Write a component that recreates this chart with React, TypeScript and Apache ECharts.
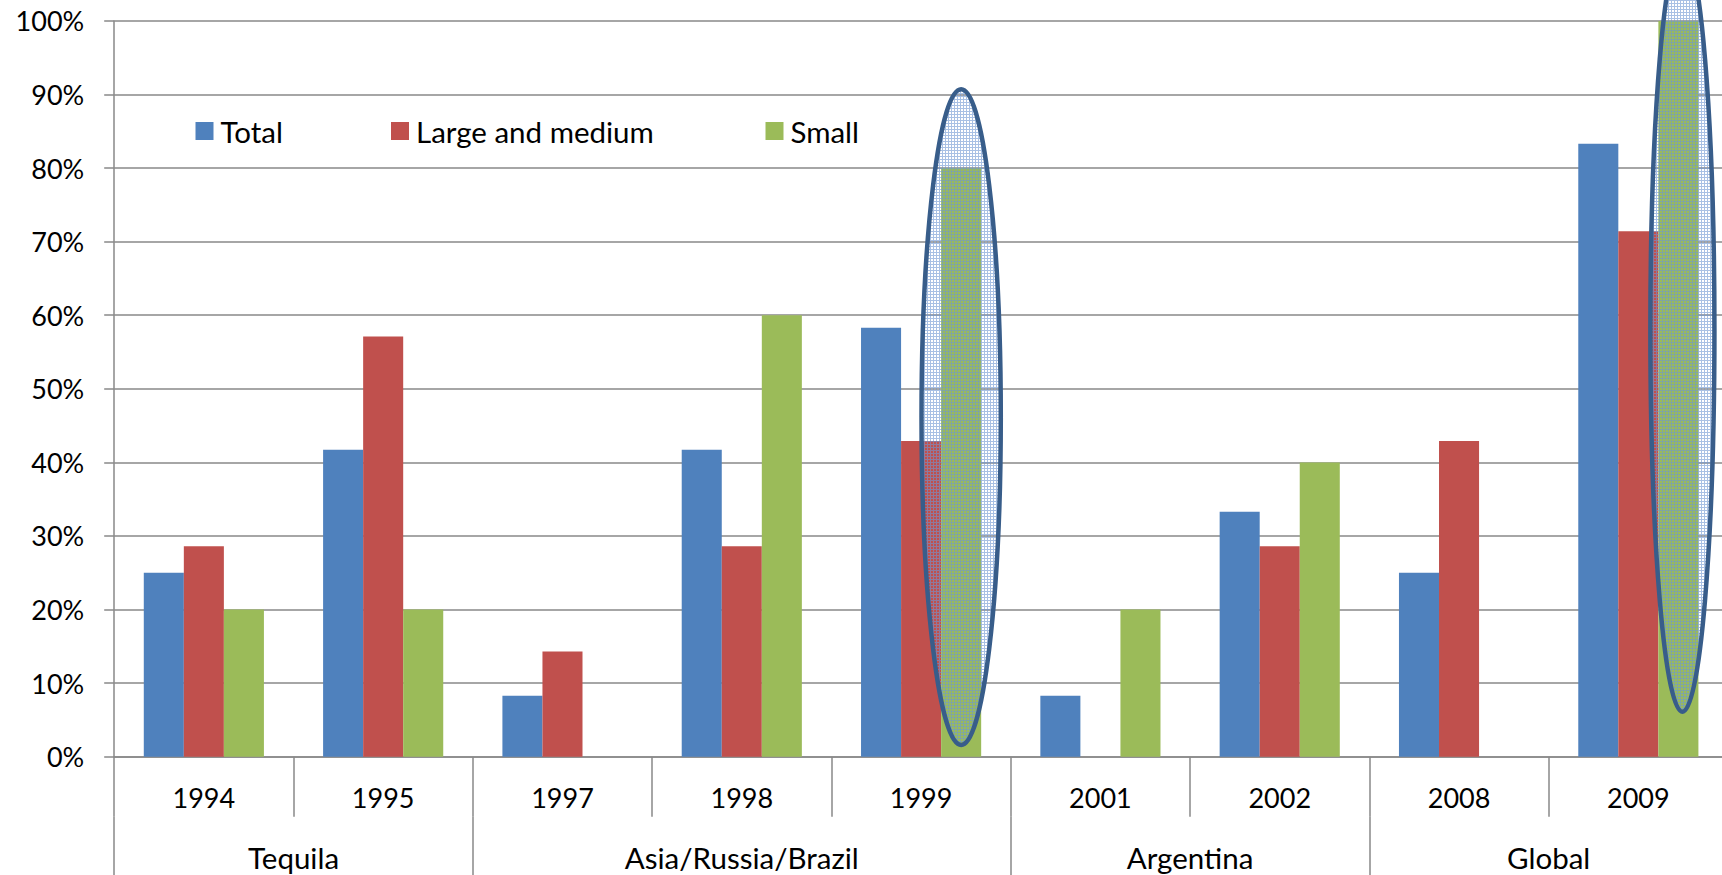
import React, { useEffect, useRef } from 'react';
import * as echarts from 'echarts';

const years = ['1994', '1995', '1997', '1998', '1999', '2001', '2002', '2008', '2009'];
const groups = ['Tequila', 'Asia/Russia/Brazil', 'Argentina', 'Global'];
const groupSpans = [2, 3, 2, 2];
const seriesNames = ['Total', 'Large and medium', 'Small'];
const totalValues = [25, 41.7, 8.3, 41.7, 58.3, 8.3, 33.3, 25, 83.3];
const largeMediumValues = [28.6, 57.1, 14.3, 28.6, 42.9, 0, 28.6, 42.9, 71.4];
const smallValues = [20, 20, 0, 60, 80, 20, 40, 0, 100];
const yMin = 0;
const yMax = 100;
const yStep = 10;

// highlighted bars (ellipse annotations), in data terms
const highlights = [
  { year: '1999', seriesIndex: 2, top: 90.7, bottom: 1.6, rxScale: 0.99, dxScale: 0 },
  { year: '2009', seriesIndex: 2, top: 110, bottom: 6.1, rxScale: 0.8, dxScale: 0.1 },
];

const COLORS = ['#4F81BD', '#C0504D', '#9BBB59'];
const FONT = 'Lato';
const FS_NUM = 27;
const FS_TXT = 29.5;
const GRID_COLOR = '#888888';
const CAT_GAP = 0.33;

export default function App() {
  const ref = useRef<HTMLDivElement>(null);

  useEffect(() => {
    if (!ref.current) return;
    const chart = echarts.init(ref.current, undefined, { renderer: 'svg' });

    const bounds: number[] = [0];
    groupSpans.forEach((s, i) => bounds.push(bounds[i] + s));
    const centers = groupSpans.map((s, i) => bounds[i] + s / 2);

    const seriesData = [totalValues, largeMediumValues, smallValues];
    const legendLefts = [195.5, 391, 765.5];

    chart.setOption({
      animation: false,
      backgroundColor: '#ffffff',
      textStyle: { fontFamily: FONT },
      grid: {
        left: 114.2,
        right: -6,
        top: 20.9,
        bottom: 118.3,
        containLabel: false,
        outerBoundsMode: 'none',
      },
      legend: seriesNames.map((n, i) => ({
        data: [n],
        left: legendLefts[i],
        top: 116,
        padding: 0,
        itemWidth: 18,
        itemHeight: 18,
        icon: 'rect',
        textStyle: { fontFamily: FONT, fontSize: FS_TXT, color: '#000', padding: [0, 0, 0, 2] },
        selectedMode: false,
      })),
      xAxis: [
        {
          type: 'category',
          data: years,
          position: 'bottom',
          axisLine: { show: true, lineStyle: { color: GRID_COLOR, width: 1.5 } },
          axisTick: { show: true, interval: 0, length: 60, lineStyle: { color: GRID_COLOR, width: 1.5 } },
          axisLabel: { interval: 0, margin: 27, fontFamily: FONT, fontSize: FS_NUM, color: '#000' },
          splitLine: { show: false },
        },
        {
          type: 'value',
          min: 0,
          max: years.length,
          position: 'bottom',
          offset: 60,
          axisLine: { show: false },
          axisTick: {
            show: true,
            customValues: bounds,
            length: 60,
            lineStyle: { color: GRID_COLOR, width: 1.5 },
          },
          axisLabel: {
            customValues: centers,
            margin: 26,
            fontFamily: FONT,
            fontSize: FS_TXT,
            color: '#000',
            formatter: (v: number) => {
              const idx = centers.findIndex((c) => Math.abs(c - v) < 1e-6);
              return idx >= 0 ? groups[idx] : '';
            },
          },
          splitLine: { show: false },
        },
      ],
      yAxis: {
        type: 'value',
        min: yMin,
        max: yMax,
        interval: yStep,
        axisLine: { show: true, lineStyle: { color: GRID_COLOR, width: 1.5 } },
        axisTick: { show: true, length: 10, lineStyle: { color: GRID_COLOR, width: 1.5 } },
        axisLabel: { margin: 30, fontFamily: FONT, fontSize: FS_NUM, color: '#000', formatter: '{value}%' },
        splitLine: { show: true, lineStyle: { color: GRID_COLOR, width: 1.5 } },
      },
      series: seriesNames.map((n, i) => ({
        name: n,
        type: 'bar',
        xAxisIndex: 0,
        yAxisIndex: 0,
        data: seriesData[i],
        barGap: '0%',
        barCategoryGap: CAT_GAP * 100 + '%',
        itemStyle: { color: COLORS[i] },
        emphasis: { disabled: true },
      })),
    });

    // pattern fill for the ellipses
    const c = document.createElement('canvas');
    c.width = 3;
    c.height = 3;
    const ctx = c.getContext('2d');
    if (ctx) {
      ctx.fillStyle = 'rgba(110,150,210,0.6)';
      ctx.fillRect(0, 0, 3, 1);
      ctx.fillRect(0, 1, 1, 2);
    }

    const x0 = chart.convertToPixel({ xAxisIndex: 0 }, years[0]) as number;
    const x1 = chart.convertToPixel({ xAxisIndex: 0 }, years[1]) as number;
    const band = x1 - x0;
    const barW = (band * (1 - CAT_GAP)) / seriesNames.length;
    const graphics = highlights.map((h) => {
      const cx =
        (chart.convertToPixel({ xAxisIndex: 0 }, h.year) as number) +
        (h.seriesIndex - (seriesNames.length - 1) / 2) * barW +
        h.dxScale * barW;
      const yt = chart.convertToPixel({ yAxisIndex: 0 }, h.top) as number;
      const yb = chart.convertToPixel({ yAxisIndex: 0 }, h.bottom) as number;
      return {
        type: 'ellipse',
        z: 100,
        silent: true,
        shape: { cx, cy: (yt + yb) / 2, rx: barW * h.rxScale, ry: (yb - yt) / 2 },
        style: {
          fill: { image: c, repeat: 'repeat' },
          stroke: '#385D8A',
          lineWidth: 4.5,
        },
      };
    });
    chart.setOption({ graphic: graphics });

    return () => chart.dispose();
  }, []);

  return <div ref={ref} style={{ width: 1722, height: 875, position: 'absolute', left: 0, top: 0 }} />;
}
